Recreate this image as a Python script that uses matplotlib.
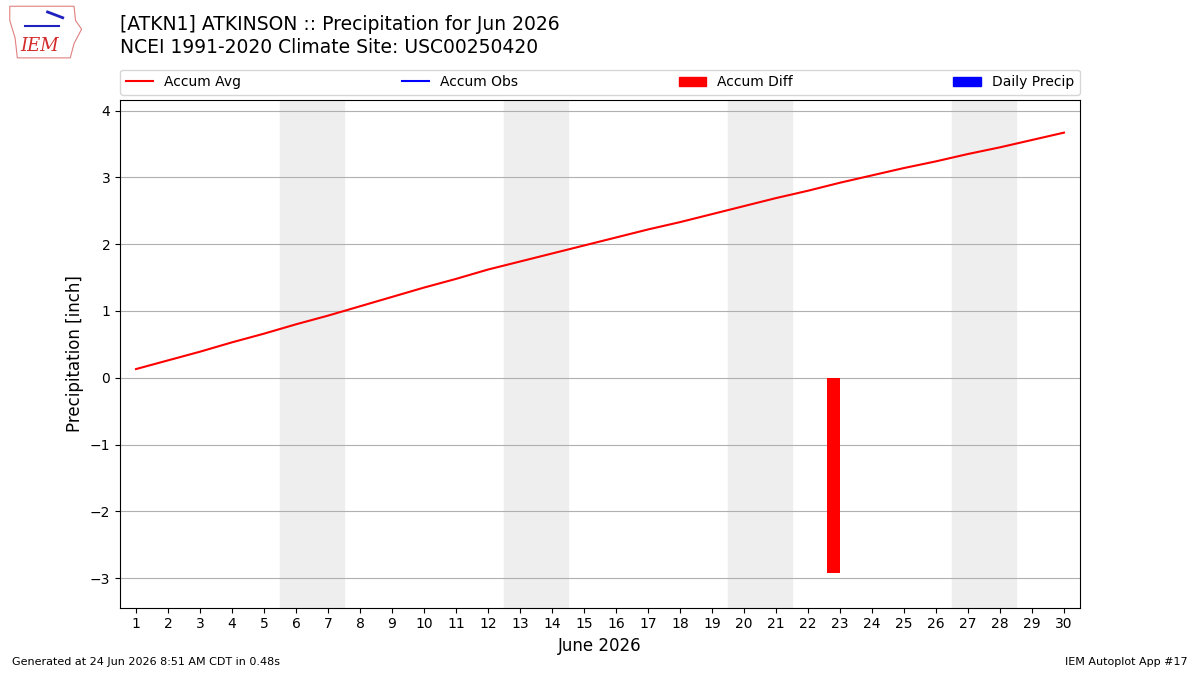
import matplotlib
matplotlib.use("Agg")
from matplotlib import pyplot as plt
from matplotlib.patches import Patch, Polygon

# daily climatology (accumulated average precip, inch) for June
days = list(range(1, 31))
accum_avg = [0.13, 0.26, 0.39, 0.53, 0.66, 0.80, 0.93, 1.07, 1.21, 1.35,
             1.48, 1.62, 1.74, 1.86, 1.98, 2.10, 2.22, 2.33, 2.45, 2.57,
             2.69, 2.80, 2.92, 3.03, 3.14, 3.24, 3.35, 3.45, 3.56, 3.67]
# observations only available for day 23
diff_days = [23]
accum_diff = [-2.93]
obs_days = []
accum_obs = []
daily_precip = []
weekends = [6, 13, 20, 27]

fig = plt.figure(figsize=(12, 6.75), dpi=100)
ax = fig.add_axes([0.1, 0.1, 0.8, 0.752])

# weekend shading
for d in weekends:
    ax.axvspan(d - 0.5, d + 1.5, color="#eeeeee", zorder=0)

ax.plot(days, accum_avg, color="r", zorder=3)
ax.plot(obs_days, accum_obs, color="b", zorder=3)
ax.bar([d - 0.2 for d in diff_days], accum_diff, width=0.4, color="r", zorder=2)
ax.bar(obs_days, daily_precip, width=0.4, color="b", zorder=2)

ax.set_xlim(0.5, 30.5)
ax.set_ylim(-3.44, 4.16)
ax.set_xticks(days)
ax.set_yticks([-3, -2, -1, 0, 1, 2, 3, 4])
ax.grid(axis="y", color="#b0b0b0", zorder=1)
ax.set_axisbelow(True)
ax.set_ylabel("Precipitation [inch]", fontsize=12)
ax.set_xlabel("June 2026", fontsize=12)

handles = [plt.Line2D([], [], color="r"), plt.Line2D([], [], color="b"),
           Patch(color="r"), Patch(color="b")]
labels = ["Accum Avg", "Accum Obs", "Accum Diff", "Daily Precip"]
ax.legend(handles, labels, bbox_to_anchor=(0, 1.01, 1, 0.05), loc="lower left",
          mode="expand", ncol=4, fontsize=10, borderaxespad=0)

fig.text(0.1, 0.947, "[ATKN1] ATKINSON :: Precipitation for Jun 2026\n"
         "NCEI 1991-2020 Climate Site: USC00250420",
         fontsize=13.5, va="center", ha="left", linespacing=1.25)

# logo: rough outline plus text
lax = fig.add_axes([0.005, 0.91, 0.063, 0.085])
lax.axis("off")
lax.set_xlim(0, 1)
lax.set_ylim(0, 1)
lax.add_patch(Polygon([(0.05, 0.95), (0.9, 0.95), (0.92, 0.7), (1.0, 0.55),
                       (0.9, 0.3), (0.85, 0.05), (0.15, 0.05), (0.12, 0.4),
                       (0.05, 0.7)], closed=True, fill=False,
                      edgecolor="#e08080", lw=0.8))
lax.text(0.45, 0.25, "IEM", color="#d42a2a", fontsize=13, fontstyle="italic",
         family="serif", ha="center", va="center")
lax.plot([0.25, 0.7], [0.6, 0.6], color="#2020c0", lw=1.5)
lax.plot([0.55, 0.75], [0.85, 0.75], color="#2020c0", lw=2)

fig.text(0.01, 0.015, "Generated at 24 Jun 2026 8:51 AM CDT in 0.48s", fontsize=8)
fig.text(0.99, 0.015, "IEM Autoplot App #17", fontsize=8, ha="right")

fig.savefig("out.png")
